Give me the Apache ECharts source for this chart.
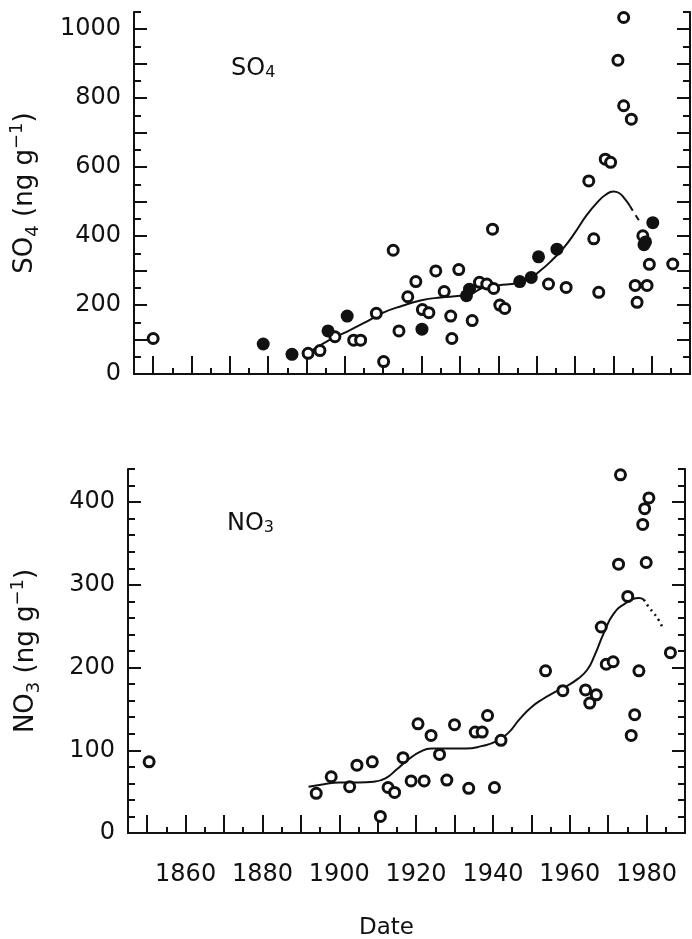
<!DOCTYPE html>
<html>
<head>
<meta charset="utf-8">
<script src="https://cdn.jsdelivr.net/npm/echarts@6/dist/echarts.min.js"></script>
<style>
html,body{margin:0;padding:0;background:#fff;}
#chart{width:692px;height:939px;}
</style>
</head>
<body>
<div id="chart"></div>
<script>
// ---------- tick values ----------
const xMinorTicks = [1845,1850,1855,1860,1865,1870,1875,1880,1885,1890,1895,1900,1905,1910,1915,1920,1925,1930,1935,1940,1945,1950,1955,1960,1965,1970,1975,1980,1985,1990];
const xMajorTicks = [1850,1860,1870,1880,1890,1900,1910,1920,1930,1940,1950,1960,1970,1980];
const xTickLabels = [1860,1880,1900,1920,1940,1960,1980];
const so4MinorTicks = [0,50,100,150,200,250,300,350,400,450,500,550,600,650,700,750,800,850,900,950,1000,1050];
const so4MajorTicks = [100,200,300,400,500,600,700,800,900,1000];
const so4TickLabels = [0,200,400,600,800,1000];
const no3MinorTicks = [0,20,40,60,80,100,120,140,160,180,200,220,240,260,280,300,320,340,360,380,400,420,440];
const no3MajorTicks = [100,200,300,400];
const no3TickLabels = [0,100,200,300,400];

// ---------- SO4 data [year, ng/g] ----------
const so4Open = [
  [1850.0,103],[1890.4,60],[1893.5,68],[1897.4,108],[1902.3,98],[1904.1,98],
  [1908.2,176],[1910.1,36],[1912.6,359],[1914.1,125],[1916.4,224],[1918.5,268],
  [1920.2,187],[1921.9,178],[1923.7,299],[1925.9,239],[1927.6,168],[1927.9,103],
  [1929.7,303],[1933.2,155],[1935.1,266],[1937.0,261],[1938.5,420],[1938.8,248],
  [1940.4,200],[1941.7,190],[1953.1,261],[1957.7,251],[1963.6,560],[1964.9,392],
  [1966.2,237],[1967.9,623],[1969.3,614],[1971.2,910],[1972.7,1034],[1972.7,778],
  [1974.7,739],[1975.7,257],[1976.2,208],[1977.7,401],[1978.8,257],[1979.4,318],
  [1985.5,319]
];
const so4Filled = [
  [1878.7,87],[1886.2,57],[1895.6,125],[1900.6,168],[1920.1,130],[1931.7,227],
  [1932.5,246],[1945.6,268],[1948.6,280],[1950.5,340],[1955.3,362],[1978.0,375],
  [1978.4,383],[1980.3,439]
];
const so4Fit = [
  [1890.5,62],[1896,99],[1900,120],[1905,148],[1910,178],[1915,198],[1920,214],
  [1925,222],[1930,227],[1933,233],[1936,250],[1940,257],[1945,264],[1948,276],
  [1951,300],[1954,330],[1957,365],[1960,410],[1963,460],[1966,500],[1968,520],
  [1970,529],[1971.5,525],[1973,508],[1974.3,488]
];
const so4FitTail = [[1974.3,488],[1975.5,466],[1977.3,435]];

// ---------- NO3 data [year, ng/g] ----------
const no3Open = [
  [1850.5,86],[1894.0,48],[1897.9,68],[1902.7,56],[1904.6,82],[1908.6,86],
  [1910.7,20],[1912.7,55],[1914.4,49],[1916.6,91],[1918.7,63],[1920.5,132],
  [1922.1,63],[1923.9,118],[1926.1,95],[1928.0,64],[1930.0,131],[1933.7,54],
  [1935.4,122],[1937.2,122],[1938.6,142],[1940.4,55],[1942.1,112],[1953.7,196],
  [1958.2,172],[1964.1,173],[1965.2,157],[1966.9,167],[1968.2,249],[1969.5,204],
  [1971.3,207],[1972.7,325],[1973.2,433],[1975.1,286],[1976.0,118],[1976.9,143],
  [1978.0,196],[1979.0,373],[1979.5,392],[1980.6,405],[1979.9,327],[1986.2,218]
];
const no3Fit = [
  [1892,56],[1896,59],[1900,61],[1905,61],[1909,62],[1912,66],[1915,77],[1918,89],
  [1921,98],[1924,102],[1928,102],[1933,102],[1937,105],[1941,111],[1944,121],
  [1947,138],[1950,152],[1953,162],[1956,170],[1959,177],[1962,186],[1964.5,197],
  [1966.5,215],[1968.8,241],[1971.4,265],[1975,279],[1978,284],[1979.3,282]
];
const no3FitTail = [[1979.3,282],[1980.6,273],[1982,265],[1983.2,257],[1984.1,249]];

// ---------- styling ----------
const INK = '#111';
const FONT = 'DejaVu Sans';
const lineStyleAxis = {color: INK, width: 2};
const plain = v => String(v);

function xAxes(gridIndex, withLabels) {
  return [
    {gridIndex, type:'value', min:1845, max:1990, position:'bottom',
     axisLine:{show:true, onZero:false, lineStyle:lineStyleAxis},
     axisTick:{show:true, inside:true, length:6, customValues:xMinorTicks, lineStyle:{color:INK,width:2}},
     axisLabel:{show:false}, splitLine:{show:false}},
    {gridIndex, type:'value', min:1845, max:1990, position:'bottom',
     axisLine:{show:false, onZero:false},
     axisTick:{show:true, inside:true, length:18, customValues:xMajorTicks, lineStyle:{color:INK,width:2}},
     axisLabel:{show:withLabels, customValues:xTickLabels, formatter:plain, color:INK, fontFamily:FONT, fontSize:24, margin:30},
     splitLine:{show:false}}
  ];
}
function yAxes(gridIndex, max, minor, major, labels, name, nameGap) {
  const base = {gridIndex, type:'value', min:0, max, splitLine:{show:false}};
  return [
    Object.assign({}, base, {position:'left',
      axisLine:{show:true, onZero:false, lineStyle:lineStyleAxis},
      axisTick:{show:true, inside:true, length:7, customValues:minor, lineStyle:{color:INK,width:2}},
      axisLabel:{show:false}}),
    Object.assign({}, base, {position:'left',
      axisLine:{show:false, onZero:false},
      axisTick:{show:true, inside:true, length:13, customValues:major, lineStyle:{color:INK,width:2}},
      axisLabel:{show:true, customValues:labels, formatter:plain, color:INK, fontFamily:FONT, fontSize:24, margin:13},
      name, nameLocation:'middle', nameGap, nameRotate:90,
      nameTextStyle:{color:INK, fontFamily:FONT, fontSize:26,
        rich:{sub:{fontSize:18, fontFamily:FONT, color:INK, verticalAlign:'bottom', lineHeight:16},
              sup:{fontSize:18, fontFamily:FONT, color:INK, verticalAlign:'top', lineHeight:34}}}}),
    Object.assign({}, base, {position:'right',
      axisLine:{show:true, onZero:false, lineStyle:lineStyleAxis},
      axisTick:{show:true, inside:true, length:7, customValues:minor, lineStyle:{color:INK,width:2}},
      axisLabel:{show:false}}),
    Object.assign({}, base, {position:'right',
      axisLine:{show:false, onZero:false},
      axisTick:{show:true, inside:true, length:13, customValues:major, lineStyle:{color:INK,width:2}},
      axisLabel:{show:false}})
  ];
}

const openStyle = {color:'#fff', borderColor:INK, borderWidth:3, opacity:1};
const filledStyle = {color:INK, borderColor:INK, borderWidth:0, opacity:1};

const option = {
  backgroundColor:'#fff',
  animation:false,
  grid:[
    {left:134, top:12, width:556, height:362, containLabel:false, outerBoundsMode:'none'},
    {left:128, top:469, width:557, height:364, containLabel:false, outerBoundsMode:'none'}
  ],
  xAxis: xAxes(0,false).concat(xAxes(1,true)),
  yAxis: yAxes(0,1050,so4MinorTicks,so4MajorTicks,so4TickLabels,'SO{sub|4} (ng g{sup|−1})',92)
    .concat(yAxes(1,440,no3MinorTicks,no3MajorTicks,no3TickLabels,'NO{sub|3} (ng g{sup|−1})',85)),
  title:[
    {text:'SO{s|4}', left:226, top:52, textStyle:{color:INK, fontFamily:FONT, fontSize:24, fontWeight:'normal',
      rich:{s:{fontSize:16, fontFamily:FONT, color:INK, verticalAlign:'bottom', lineHeight:15}}}},
    {text:'NO{s|3}', left:222, top:507, textStyle:{color:INK, fontFamily:FONT, fontSize:24, fontWeight:'normal',
      rich:{s:{fontSize:16, fontFamily:FONT, color:INK, verticalAlign:'bottom', lineHeight:15}}}},
    {text:'Date', left:354, top:912, textStyle:{color:INK, fontFamily:FONT, fontSize:23, fontWeight:'normal'}}
  ],
  series:[
    {type:'line', xAxisIndex:0, yAxisIndex:0, data:so4Fit, smooth:0.5, showSymbol:false, symbol:'none',
     lineStyle:{color:INK, width:2}, z:2},
    {type:'line', xAxisIndex:0, yAxisIndex:0, data:so4FitTail, smooth:0.5, showSymbol:false, symbol:'none',
     lineStyle:{color:INK, width:2, type:[6,5]}, z:2},
    {type:'scatter', xAxisIndex:0, yAxisIndex:0, data:so4Open, symbol:'circle', symbolSize:10, itemStyle:openStyle, z:3},
    {type:'scatter', xAxisIndex:0, yAxisIndex:0, data:so4Filled, symbol:'circle', symbolSize:13, itemStyle:filledStyle, z:4},
    {type:'line', xAxisIndex:2, yAxisIndex:4, data:no3Fit, smooth:0.5, showSymbol:false, symbol:'none',
     lineStyle:{color:INK, width:2}, z:2},
    {type:'line', xAxisIndex:2, yAxisIndex:4, data:no3FitTail, smooth:0.5, showSymbol:false, symbol:'none',
     lineStyle:{color:INK, width:2.5, type:[2,4]}, z:2},
    {type:'scatter', xAxisIndex:2, yAxisIndex:4, data:no3Open, symbol:'circle', symbolSize:10, itemStyle:openStyle, z:3}
  ]
};
const chart = echarts.init(document.getElementById('chart'), null, {renderer:'canvas'});
chart.setOption(option);
</script>
</body>
</html>
